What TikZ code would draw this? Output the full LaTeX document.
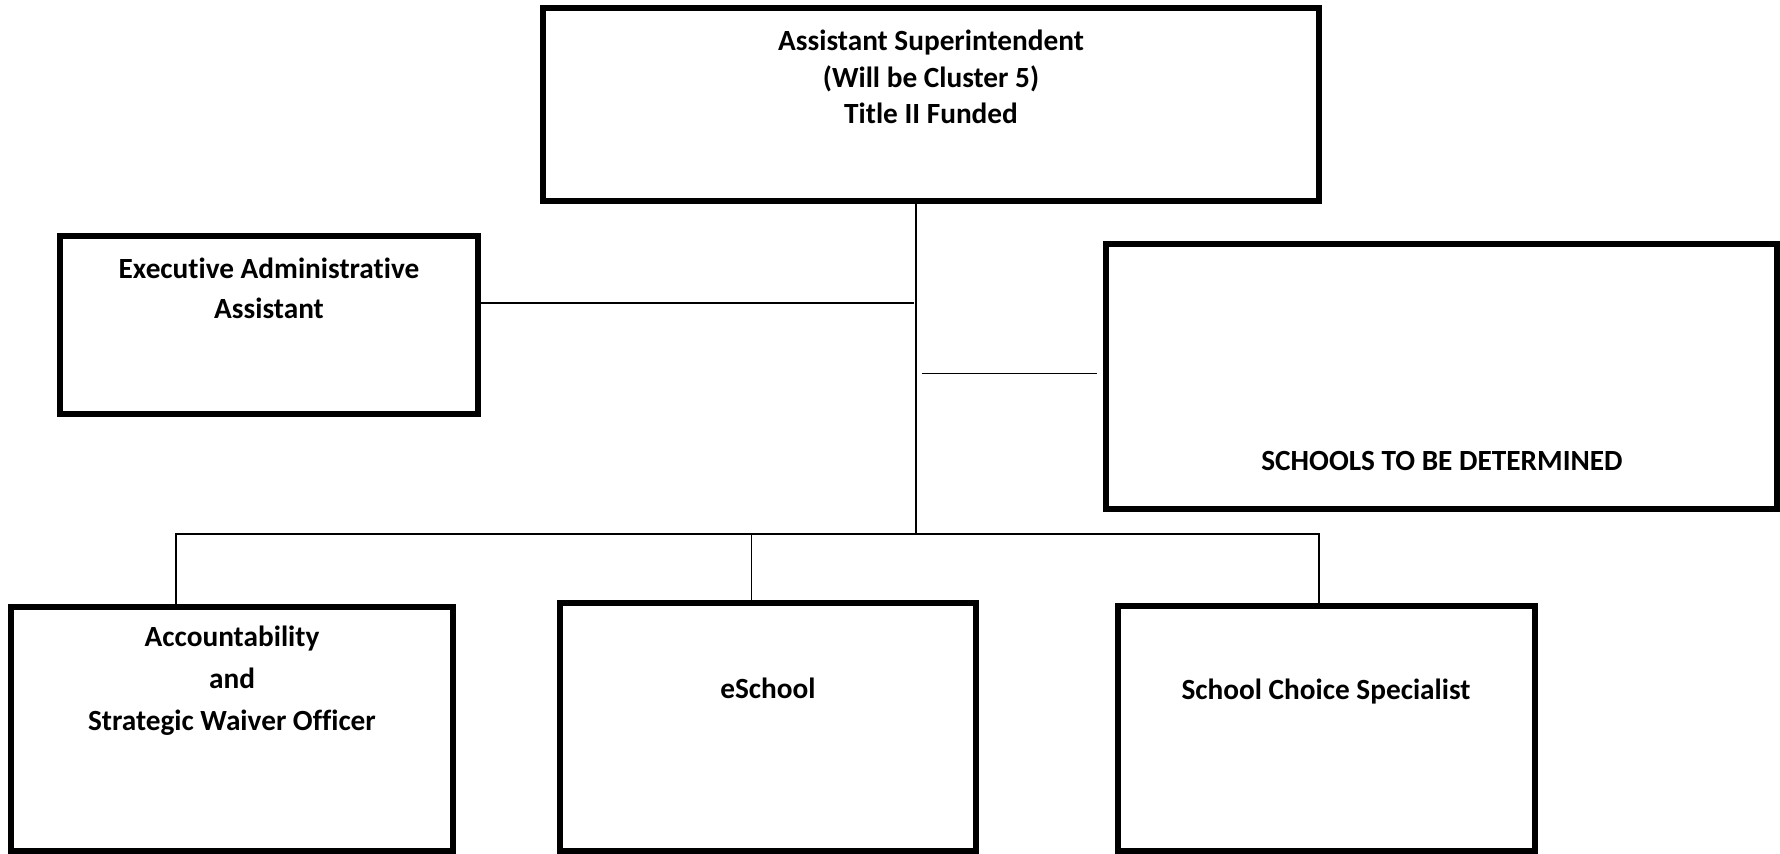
\documentclass[tikz,border=0pt]{standalone}
\usepackage{fontspec}
\setmainfont{Carlito}[Ligatures=NoCommon]
\usepackage{tikz}
\tikzset{>=latex}
\tikzset{
    post/.style={draw, line width=2.3pt, inner sep=0pt},
    lbl/.style={font=\bfseries\fontsize{12.5}{17}\selectfont, align=center, inner sep=0pt},
    wire/.style={line width=.6pt}
}

\begin{document}
\begin{tikzpicture}[x=0.015cm, y=-0.015cm]
    \useasboundingbox(0, 0) rectangle (1780, 854);
    \node[post, minimum width=776*0.015cm, minimum height=193*0.015cm](sup) at(931, 104.5){};
    \node[lbl, font=\bfseries\fontsize{12.5}{15.5}\selectfont](suptxt) at(931, 77){Assistant Superintendent\\(Will be Cluster 5)\\Title II Funded};
    \node[post, minimum width=418*0.015cm, minimum height=178*0.015cm](exec) at(269, 325){};
    \node[lbl](exectxt) at(269, 288.5){Executive Administrative\\Assistant};
    \node[post, minimum width=671*0.015cm, minimum height=265*0.015cm](schools) at(1441.5, 376.5){};
    \node[lbl](schoolstxt) at(1442, 461){SCHOOLS TO BE DETERMINED};
    \node[post, minimum width=442*0.015cm, minimum height=244*0.015cm](acc) at(232, 729){};
    \node[lbl, font=\bfseries\fontsize{12.5}{18}\selectfont](acctxt) at(232, 681){Accountability\\and\\Strategic Waiver Officer};
    \node[post, minimum width=416*0.015cm, minimum height=248*0.015cm](esc) at(768, 727){};
    \node[lbl](esctxt) at(768, 688){eSchool};
    \node[post, minimum width=417*0.015cm, minimum height=245*0.015cm](scs) at(1326.5, 728.5){};
    \node[lbl](scstxt) at(1326, 692){School Choice Specialist};
    \coordinate(hub) at(916, 534);
    \coordinate(ej) at(914, 303);
    \coordinate(sj) at(922, 373.5);
    \coordinate(b1) at(176, 534);
    \coordinate(b2) at(751.5, 534);
    \coordinate(b3) at(1319, 534);
    \draw[wire](hub |- sup.south)--(hub);
    \draw[wire](ej -| exec.east)--(ej);
    \draw[wire](sj)--([xshift=-0.1cm]sj -| schools.west);
    \draw[wire](b1 |- acc.north)--(b1)--(b3)--(b3 |- scs.north);
    \draw[wire](b2)--(b2 |- esc.north);
\end{tikzpicture}
\end{document}
